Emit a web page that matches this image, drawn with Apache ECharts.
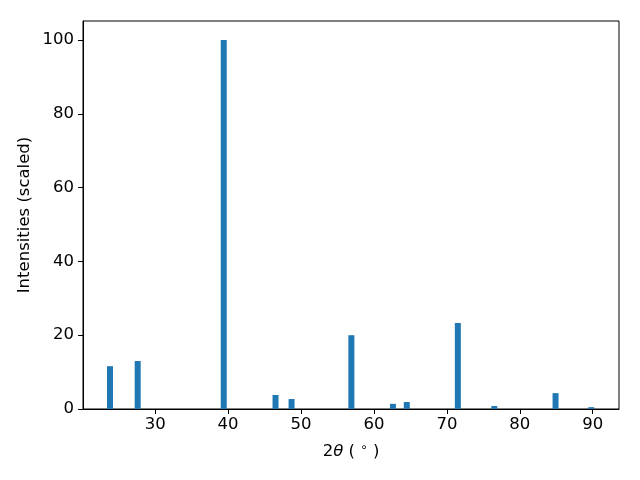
<!DOCTYPE html>
<html>
<head>
<meta charset="utf-8">
<script src="https://cdn.jsdelivr.net/npm/echarts@6/dist/echarts.min.js"></script>
<style>html,body{margin:0;padding:0;background:#fff}#c{width:640px;height:480px}</style>
</head>
<body>
<div id="c"></div>
<script>
const twoTheta = [23.8, 27.6, 39.4, 46.5, 48.7, 56.9, 62.6, 64.5, 71.5, 76.5, 84.9, 89.8];
const intensity = [11.6, 13.0, 100, 3.8, 2.7, 20.0, 1.4, 1.9, 23.3, 0.8, 4.3, 0.5];
const xTicks = [30, 40, 50, 60, 70, 80, 90];
const yTicks = [0, 20, 40, 60, 80, 100];

const font = 'DejaVu Sans';
const fs = 16.5;
const chart = echarts.init(document.getElementById('c'), null, {renderer: 'canvas'});
chart.setOption({
  animation: false,
  backgroundColor: '#fff',
  grid: {left: 83, right: 21, top: 21, bottom: 71, show: true, borderColor: '#000', borderWidth: 1, containLabel: false},
  xAxis: {
    type: 'value', min: 20.1, max: 93.6,
    splitLine: {show: false},
    axisLine: {show: true, onZero: false, lineStyle: {color: '#000', width: 1}},
    axisTick: {show: true, length: 5, lineStyle: {color: '#000'}, customValues: xTicks},
    axisLabel: {color: '#000', fontFamily: font, fontSize: fs, margin: 7, customValues: xTicks},
    name: '2{i|θ} ( {s|∘} )',
    nameLocation: 'middle', nameGap: 33,
    nameTextStyle: {color: '#000', fontFamily: font, fontSize: fs,
      rich: {i: {fontStyle: 'italic', fontFamily: font, fontSize: fs, color: '#000'},
             s: {fontSize: 12, fontFamily: font, color: '#000', verticalAlign: 'top', padding: [0,0,7,0]}}}
  },
  yAxis: {
    type: 'value', min: 0, max: 105.15,
    splitLine: {show: false},
    axisLine: {show: true, lineStyle: {color: '#000', width: 1}},
    axisTick: {show: true, length: 5, lineStyle: {color: '#000'}, customValues: yTicks},
    axisLabel: {color: '#000', fontFamily: font, fontSize: fs, margin: 9, customValues: yTicks},
    name: 'Intensities (scaled)', nameLocation: 'middle', nameGap: 50, nameRotate: 90,
    nameMoveOverlap: false,
    nameTextStyle: {color: '#000', fontFamily: font, fontSize: fs}
  },
  series: [{
    type: 'bar',
    barWidth: 6,
    itemStyle: {color: '#1f77b4'},
    data: twoTheta.map((x, i) => [x, intensity[i]])
  }]
});
</script>
</body>
</html>
